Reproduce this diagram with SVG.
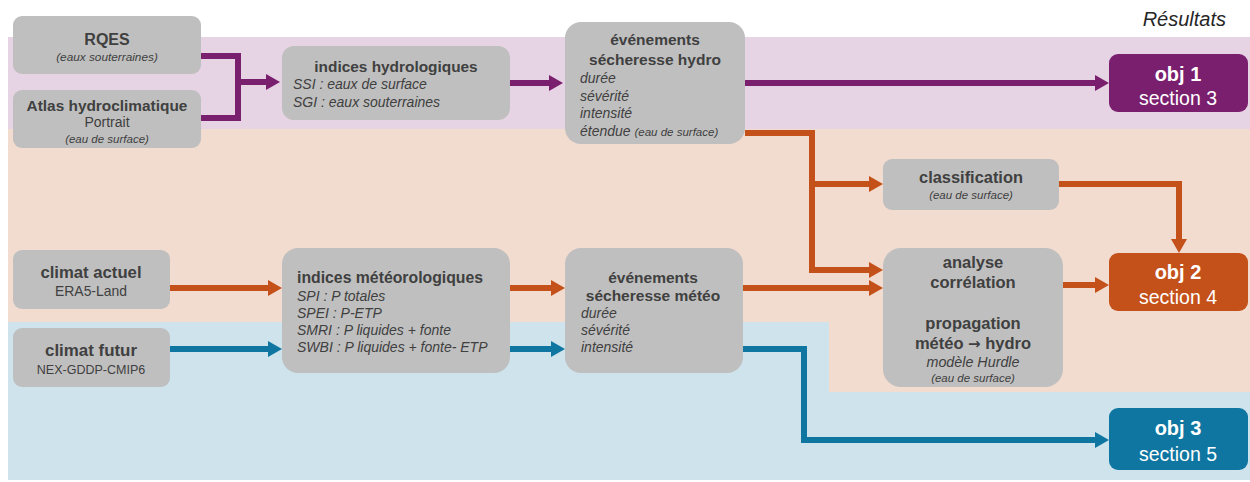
<svg xmlns="http://www.w3.org/2000/svg" width="1250" height="482" viewBox="0 0 1250 482">
<style>
text{font-family:"Liberation Sans",Arial,sans-serif;fill:#404040}
.n{fill:#BFBFBF}
.b{font-weight:bold}
.i{font-style:italic}
.c{text-anchor:middle}
.w{fill:#FFFFFF}
.lp{fill:none;stroke:#7A1F6E;stroke-width:6;stroke-linejoin:miter}
.lo{fill:none;stroke:#C4501A;stroke-width:6;stroke-linejoin:miter}
.lb{fill:none;stroke:#0E76A1;stroke-width:6;stroke-linejoin:miter}
</style>
<defs>
<marker id="ap" markerUnits="userSpaceOnUse" viewBox="0 0 14 16" markerWidth="14" markerHeight="16" refX="2" refY="8" orient="auto"><path d="M0,0 L14,8 L0,16 z" fill="#7A1F6E"/></marker>
<marker id="ao" markerUnits="userSpaceOnUse" viewBox="0 0 14 16" markerWidth="14" markerHeight="16" refX="2" refY="8" orient="auto"><path d="M0,0 L14,8 L0,16 z" fill="#C4501A"/></marker>
<marker id="ab" markerUnits="userSpaceOnUse" viewBox="0 0 14 16" markerWidth="14" markerHeight="16" refX="2" refY="8" orient="auto"><path d="M0,0 L14,8 L0,16 z" fill="#0E76A1"/></marker>
</defs>
<rect width="1250" height="482" fill="#FFFFFF"/>
<g id="bands">
<rect x="8" y="37" width="1242" height="92" fill="#E6D3E4"/>
<polygon points="8,129 1250,129 1250,392 829,392 829,322 8,322" fill="#F2DCCF"/>
<polygon points="8,322 829,322 829,392 1250,392 1250,480 8,480" fill="#CEE3EB"/>
</g>
<text x="1226" y="26" class="i" style="font-size:20px;text-anchor:end;fill:#262626">Résultats</text>
<g id="connectors">
<path class="lp" d="M201,56 H238 V118 H201"/>
<path class="lp" d="M238,82 H268" marker-end="url(#ap)"/>
<path class="lp" d="M510,83 H551" marker-end="url(#ap)"/>
<path class="lp" d="M745,83 H1097" marker-end="url(#ap)"/>
<path class="lo" d="M745,133 H812 V270 H871" marker-end="url(#ao)"/>
<path class="lo" d="M812,184 H871" marker-end="url(#ao)"/>
<path class="lo" d="M1059,184 H1179 V241" marker-end="url(#ao)"/>
<path class="lo" d="M1063,285 H1097" marker-end="url(#ao)"/>
<path class="lo" d="M170,288 H270" marker-end="url(#ao)"/>
<path class="lo" d="M510,288 H553" marker-end="url(#ao)"/>
<path class="lo" d="M743,288 H871" marker-end="url(#ao)"/>
<path class="lb" d="M170,349 H270" marker-end="url(#ab)"/>
<path class="lb" d="M510,349 H553" marker-end="url(#ab)"/>
<path class="lb" d="M743,349 H804 V440 H1097" marker-end="url(#ab)"/>
</g>
<g id="rqes">
<rect class="n" x="13" y="16" width="188" height="58" rx="9"/>
<text x="107" y="45" class="b c" style="font-size:16px">RQES</text>
<text x="107" y="61" class="i c" style="font-size:11.8px">(eaux souterraines)</text>
</g>
<g id="atlas">
<rect class="n" x="13" y="90" width="188" height="58" rx="9"/>
<text x="107" y="111" class="b c" style="font-size:15.4px">Atlas hydroclimatique</text>
<text x="107" y="127" class="c" style="font-size:14px">Portrait</text>
<text x="107" y="143" class="i c" style="font-size:11.5px">(eau de surface)</text>
</g>
<g id="indices-hydro">
<rect class="n" x="282" y="46" width="228" height="74" rx="12"/>
<text x="396" y="72" class="b c" style="font-size:15.4px">indices hydrologiques</text>
<text x="293" y="89" class="i" style="font-size:14px">SSI : eaux de surface</text>
<text x="293" y="107" class="i" style="font-size:14px">SGI : eaux souterraines</text>
</g>
<g id="evenements-hydro">
<rect class="n" x="565" y="22" width="180" height="122" rx="16"/>
<text x="655" y="45" class="b c" style="font-size:15.5px">événements</text>
<text x="655" y="65" class="b c" style="font-size:15.5px">sécheresse hydro</text>
<text x="580" y="83" class="i" style="font-size:14px">durée</text>
<text x="580" y="101" class="i" style="font-size:14px">sévérité</text>
<text x="580" y="118" class="i" style="font-size:14px">intensité</text>
<text x="580" y="136" class="i" style="font-size:14px">étendue <tspan style="font-size:11.5px">(eau de surface)</tspan></text>
</g>
<g id="obj1">
<rect x="1109" y="54" width="139" height="58" rx="9" fill="#7A1F6E"/>
<text x="1178" y="81" class="b c w" style="font-size:20px">obj 1</text>
<text x="1178" y="105" class="c w" style="font-size:19.5px">section 3</text>
</g>
<g id="classification">
<rect class="n" x="883" y="159" width="176" height="51" rx="9"/>
<text x="971" y="183" class="b c" style="font-size:16.4px">classification</text>
<text x="971" y="199" class="i c" style="font-size:11.5px">(eau de surface)</text>
</g>
<g id="analyse">
<rect class="n" x="883" y="248" width="180" height="139" rx="18"/>
<text x="973" y="268" class="b c" style="font-size:16.5px">analyse</text>
<text x="973" y="288" class="b c" style="font-size:16.5px">corrélation</text>
<text x="973" y="329" class="b c" style="font-size:16.5px">propagation</text>
<text x="973" y="349" class="b c" style="font-size:16.5px">météo <tspan style="font-family:'DejaVu Sans',sans-serif;font-size:15px">→</tspan> hydro</text>
<text x="973" y="367" class="i c" style="font-size:14.3px">modèle Hurdle</text>
<text x="973" y="382" class="i c" style="font-size:11.5px">(eau de surface)</text>
</g>
<g id="obj2">
<rect x="1109" y="253" width="139" height="58" rx="9" fill="#C4501A"/>
<text x="1178" y="279" class="b c w" style="font-size:20px">obj 2</text>
<text x="1178" y="304" class="c w" style="font-size:19.5px">section 4</text>
</g>
<g id="obj3">
<rect x="1109" y="408" width="139" height="62" rx="9" fill="#0E76A1"/>
<text x="1178" y="435" class="b c w" style="font-size:20px">obj 3</text>
<text x="1178" y="461" class="c w" style="font-size:19.5px">section 5</text>
</g>
<g id="climat-actuel">
<rect class="n" x="13" y="250" width="157" height="59" rx="9"/>
<text x="91" y="278" class="b c" style="font-size:16.7px">climat actuel</text>
<text x="91" y="296" class="c" style="font-size:13.9px">ERA5-Land</text>
</g>
<g id="climat-futur">
<rect class="n" x="13" y="328" width="157" height="59" rx="9"/>
<text x="91" y="356" class="b c" style="font-size:16.9px">climat futur</text>
<text x="91" y="374" class="c" style="font-size:12.5px">NEX-GDDP-CMIP6</text>
</g>
<g id="indices-meteo">
<rect class="n" x="282" y="248" width="228" height="125" rx="16"/>
<text x="297" y="283" class="b" style="font-size:15.8px">indices météorologiques</text>
<text x="297" y="301" class="i" style="font-size:14px">SPI : P totales</text>
<text x="297" y="318" class="i" style="font-size:14px">SPEI : P-ETP</text>
<text x="297" y="335" class="i" style="font-size:14px">SMRI : P liquides + fonte</text>
<text x="297" y="352" class="i" style="font-size:14px">SWBI : P liquides + fonte- ETP</text>
</g>
<g id="evenements-meteo">
<rect class="n" x="565" y="248" width="178" height="125" rx="16"/>
<text x="653" y="283" class="b c" style="font-size:15.5px">événements</text>
<text x="653" y="301" class="b c" style="font-size:15.5px">sécheresse météo</text>
<text x="581" y="318" class="i" style="font-size:14px">durée</text>
<text x="581" y="335" class="i" style="font-size:14px">sévérité</text>
<text x="581" y="352" class="i" style="font-size:14px">intensité</text>
</g>
</svg>
